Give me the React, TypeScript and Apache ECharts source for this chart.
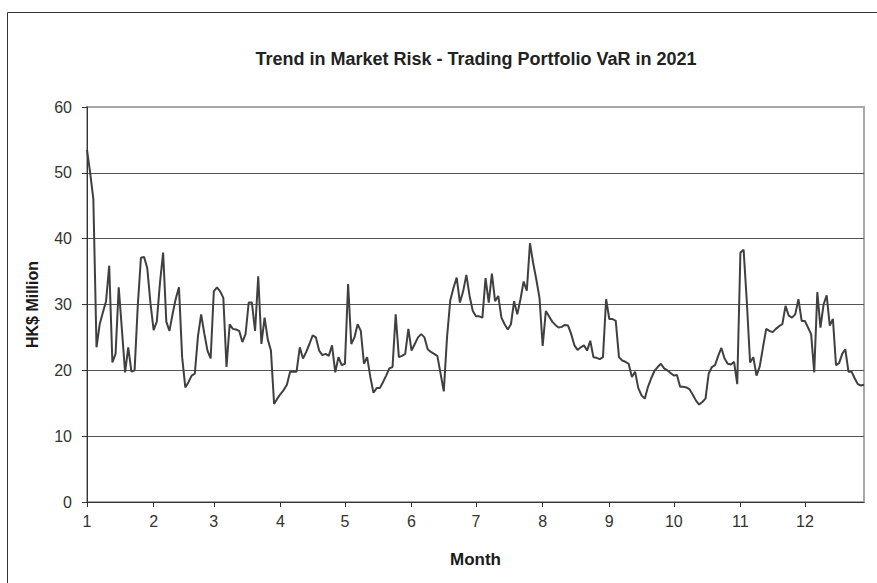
import React, { useEffect, useRef } from "react";
import * as echarts from "echarts";

// Daily trading-portfolio VaR readings (HK$ million), grouped by month
const jan = [53.5, 50, 46, 23.5, 27, 28.8, 30.5, 35.9, 21.2, 22.5, 32.6, 26.2, 19.7, 23.5, 19.8, 20, 29.8, 37.1, 37.2, 35.5, 30.2];
const feb = [26.1, 27.4, 33.3, 37.9, 27.4, 26, 28.6, 30.9, 32.6, 22, 17.4, 18.2, 19.2, 19.5, 25.2, 28.5, 25.6, 23, 21.8];
const mar = [32, 32.6, 32, 31, 20.5, 27, 26.3, 26.2, 26, 24.3, 25.5, 30.3, 30.3, 26, 34.3, 24, 28, 24.7, 23, 14.9, 15.7];
const apr = [16.4, 17, 17.8, 19.8, 19.8, 19.8, 23.5, 21.8, 22.8, 24, 25.3, 25, 23, 22.3, 22.5, 22.2, 23.8, 19.7, 22, 20.8];
const may = [21, 33.1, 24, 25, 27, 26, 21, 22, 19, 16.6, 17.3, 17.3, 18.2, 19.2, 20.3, 20.5, 28.5, 22, 22.2, 22.5, 26.3];
const jun = [23, 24, 25, 25.5, 25, 23.2, 22.8, 22.5, 22.2, 19.5, 16.8, 25, 30.6, 32.5, 34.1, 30.3, 32, 34.5, 31.3, 29];
const jul = [28.2, 28.2, 28, 34, 30.3, 34.7, 30.5, 31.3, 28, 27, 26.2, 27, 30.5, 28.5, 30.8, 33.5, 32.1, 39.3, 36.3, 33.8, 31];
const aug = [23.7, 29, 28.2, 27.4, 26.9, 26.5, 26.6, 26.9, 26.8, 25.5, 23.8, 23.1, 23.5, 23.8, 23, 24.5, 22, 21.9, 21.7, 22, 30.8];
const sep = [27.8, 27.8, 27.5, 22, 21.5, 21.3, 21, 19, 19.8, 17.3, 16.2, 15.7, 17.5, 18.8, 19.9, 20.5, 21, 20.3, 20, 19.6];
const oct = [19.2, 19.3, 17.5, 17.5, 17.4, 17.1, 16.3, 15.4, 14.8, 15.2, 15.7, 19.5, 20.5, 20.8, 22.2, 23.4, 21.8, 21, 20.9, 21.3, 17.9];
const nov = [37.9, 38.3, 30.3, 21.2, 22, 19.2, 20.6, 23.5, 26.3, 26, 25.8, 26.3, 26.7, 27, 29.8, 28.3, 28, 28.5, 30.8, 27.5];
const dec = [27.5, 26.5, 25.5, 19.7, 31.9, 26.5, 30, 31.4, 26.8, 27.8, 20.8, 21.1, 22.5, 23.2, 19.8, 19.8, 18.8, 17.9, 17.7, 17.8];

const monthValues = [jan, feb, mar, apr, may, jun, jul, aug, sep, oct, nov, dec];
const monthLabels = ["1", "2", "3", "4", "5", "6", "7", "8", "9", "10", "11", "12"];
const monthStarts = [0, 31, 59, 90, 120, 151, 181, 212, 243, 273, 304, 334];
const monthDays = [31, 28, 31, 30, 31, 30, 31, 31, 30, 31, 30, 31];
const X_MAX = 361.5;

const FONT = "'Liberation Sans', Arial, sans-serif";

export default function App() {
  const ref = useRef<HTMLDivElement>(null);

  useEffect(() => {
    if (!ref.current) return;
    const chart = echarts.init(ref.current, null, { renderer: "svg" });

    const points: number[][] = [];
    monthValues.forEach((vals, m) => {
      const step =
        m === monthValues.length - 1
          ? (X_MAX - monthStarts[m]) / (vals.length - 1)
          : monthDays[m] / vals.length;
      vals.forEach((v, i) => points.push([monthStarts[m] + i * step, v]));
    });

    chart.setOption({
      animation: false,
      backgroundColor: "#ffffff",
      textStyle: { fontFamily: FONT },
      title: {
        text: "Trend in Market Risk - Trading Portfolio VaR in 2021",
        left: 471,
        textAlign: "center",
        top: 45,
        textStyle: { fontFamily: FONT, fontSize: 18, fontWeight: "bold", color: "#222" },
      },
      graphic: [
        {
          type: "rect",
          shape: { x: 7.5, y: 12.5, width: 900, height: 620 },
          style: { fill: "none", stroke: "#333", lineWidth: 1 },
          silent: true,
        },
      ],
      grid: {
        left: 87,
        right: 13,
        top: 107,
        bottom: 81,
        show: true,
        borderColor: "#a8a8a8",
        borderWidth: 2,
        backgroundColor: "transparent",
      },
      xAxis: {
        type: "value",
        min: 0,
        max: X_MAX,
        name: "Month",
        nameLocation: "middle",
        nameGap: 49,
        nameTextStyle: { fontFamily: FONT, fontSize: 17, fontWeight: "bold", color: "#1a1a1a" },
        axisLine: { show: true, lineStyle: { color: "#333", width: 1 } },
        axisTick: { show: true, length: 5, customValues: monthStarts, lineStyle: { color: "#333" } },
        axisLabel: {
          customValues: monthStarts,
          formatter: (v: number) => monthLabels[monthStarts.indexOf(Math.round(v))] ?? "",
          fontFamily: FONT,
          fontSize: 16,
          color: "#333",
          margin: 11,
        },
        splitLine: { show: false },
      },
      yAxis: {
        type: "value",
        min: 0,
        max: 60,
        interval: 10,
        name: "HK$ Million",
        nameLocation: "middle",
        nameGap: 47,
        nameTextStyle: { fontFamily: FONT, fontSize: 16, fontWeight: "bold", color: "#1a1a1a" },
        axisLine: { show: true, lineStyle: { color: "#333", width: 1 } },
        axisTick: { show: true, length: 5, lineStyle: { color: "#333" } },
        axisLabel: { fontFamily: FONT, fontSize: 16, color: "#333", margin: 15 },
        splitLine: {
          show: true,
          lineStyle: {
            color: ["#555", "#555", "#555", "#555", "#555", "#555", "#a8a8a8"],
            width: 1,
          },
        },
      },
      series: [
        {
          type: "line",
          data: points,
          showSymbol: false,
          symbol: "none",
          lineStyle: { color: "#404040", width: 2 },
          z: 5,
        },
      ],
    });

    return () => chart.dispose();
  }, []);

  return (
    <div
      ref={ref}
      style={{ position: "fixed", left: 0, top: 0, width: 877, height: 583, background: "#fff" }}
    />
  );
}
